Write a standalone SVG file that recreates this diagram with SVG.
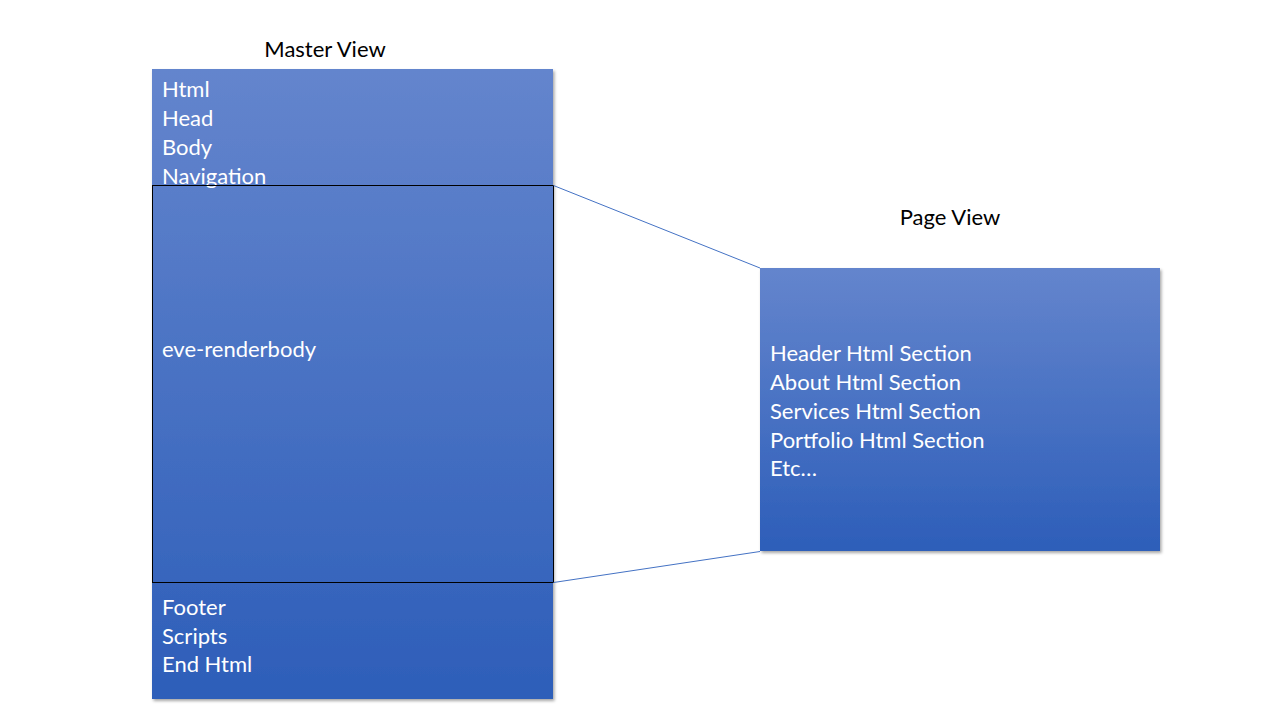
<svg xmlns="http://www.w3.org/2000/svg" width="1280" height="720" viewBox="0 0 1280 720">
  <defs>
    <linearGradient id="gMaster" x1="0" y1="0" x2="0" y2="1">
      <stop offset="0" stop-color="#6485CD"/>
      <stop offset="1" stop-color="#2D5EB9"/>
    </linearGradient>
    <linearGradient id="gPage" x1="0" y1="0" x2="0" y2="1">
      <stop offset="0" stop-color="#6485CD"/>
      <stop offset="1" stop-color="#2D5EB9"/>
    </linearGradient>
    <filter id="shadow" x="-5%" y="-5%" width="110%" height="110%">
      <feDropShadow dx="1.5" dy="2" stdDeviation="1.5" flood-color="#000" flood-opacity="0.35"/>
    </filter>
  </defs>
  <style>
    .title { font-family: "Lato", "Open Sans", "Liberation Sans", sans-serif; font-size: 22px; fill: #000; }
    .lbl { font-family: "Lato", "Open Sans", "Liberation Sans", sans-serif; font-size: 22px; fill: #fff; }
    .conn { stroke: #4472C4; stroke-width: 1; fill: none; }
  </style>
  <rect width="1280" height="720" fill="#fff"/>

  <g id="master-view">
    <text class="title" x="325" y="57" text-anchor="middle">Master View</text>
    <rect x="152" y="69" width="401" height="630" fill="url(#gMaster)" filter="url(#shadow)"/>
    <text class="lbl" x="162" y="97">Html</text>
    <text class="lbl" x="162" y="126">Head</text>
    <text class="lbl" x="162" y="155">Body</text>
    <text class="lbl" x="162" y="184">Navigation</text>
    <text class="lbl" x="162" y="615">Footer</text>
    <text class="lbl" x="162" y="644">Scripts</text>
    <text class="lbl" x="162" y="672">End Html</text>
  </g>

  <g id="renderbody">
    <rect x="152.5" y="185.5" width="401" height="397" fill="none" stroke="#000" stroke-width="1"/>
    <text class="lbl" x="162" y="357">eve-renderbody</text>
  </g>

  <g id="page-view">
    <text class="title" x="950" y="225" text-anchor="middle">Page View</text>
    <rect x="760" y="268" width="400" height="283" fill="url(#gPage)" filter="url(#shadow)"/>
    <text class="lbl" x="770" y="361">Header Html Section</text>
    <text class="lbl" x="770" y="390">About Html Section</text>
    <text class="lbl" x="770" y="419">Services Html Section</text>
    <text class="lbl" x="770" y="448">Portfolio Html Section</text>
    <text class="lbl" x="770" y="476">Etc…</text>
  </g>

  <g id="connectors">
    <line class="conn" x1="553.5" y1="185.5" x2="760" y2="268"/>
    <line class="conn" x1="553.5" y1="582.5" x2="760" y2="551.5"/>
  </g>
</svg>
